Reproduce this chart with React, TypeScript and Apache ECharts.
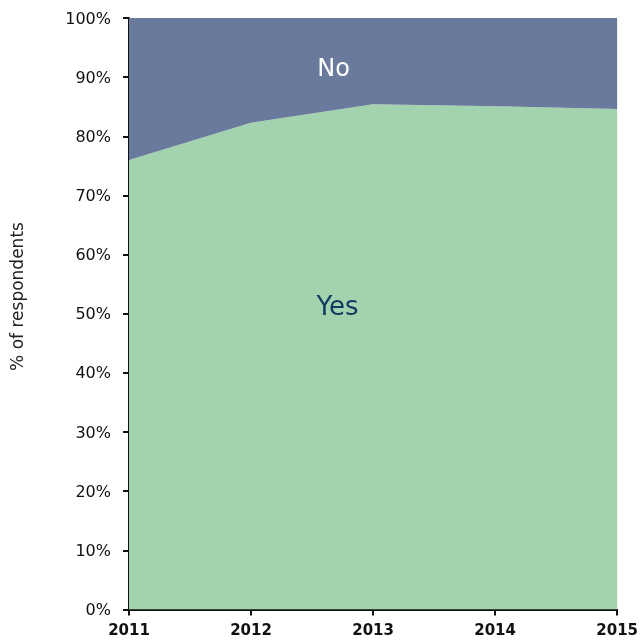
import React, { useEffect, useRef } from "react";
import * as echarts from "echarts";

const years = ["2011", "2012", "2013", "2014", "2015"];
const yesValues = [76.0, 82.3, 85.4, 85.1, 84.6];
const noValues = [24.0, 17.7, 14.6, 14.9, 15.4];
const yTicks = [0, 10, 20, 30, 40, 50, 60, 70, 80, 90, 100];
const yAxisTitle = "% of respondents";

const FONT = "'DejaVu Sans', 'Noto Sans', sans-serif";

export default function App() {
  const ref = useRef<HTMLDivElement>(null);
  useEffect(() => {
    if (!ref.current) return;
    const chart = echarts.init(ref.current, null, { renderer: "svg" });
    chart.setOption({
      animation: false,
      grid: { left: 129, right: 21, top: 18, bottom: 31.5, containLabel: false },
      xAxis: {
        type: "category",
        data: years,
        boundaryGap: false,
        axisLine: { lineStyle: { color: "#111", width: 2 } },
        axisTick: { show: true, length: 6, lineStyle: { color: "#111", width: 2 } },
        axisLabel: {
          color: "#111",
          fontFamily: FONT,
          fontWeight: "bold",
          fontSize: 15,
          margin: 13,
          hideOverlap: false,
          interval: 0,
        },
        splitLine: { show: false },
      },
      yAxis: {
        type: "value",
        min: yTicks[0],
        max: yTicks[yTicks.length - 1],
        interval: 10,
        axisLine: { show: true, lineStyle: { color: "#111", width: 2 } },
        axisTick: { show: true, length: 6, lineStyle: { color: "#111", width: 2 } },
        axisLabel: {
          color: "#111",
          fontFamily: FONT,
          fontSize: 16,
          margin: 18,
          formatter: "{value}%",
        },
        splitLine: { show: false },
      },
      series: [
        {
          name: "Yes",
          type: "line",
          stack: "total",
          data: yesValues,
          symbol: "none",
          lineStyle: { width: 0 },
          areaStyle: { color: "#a3d3ae", opacity: 1 },
          z: 1,
        },
        {
          name: "No",
          type: "line",
          stack: "total",
          data: noValues,
          symbol: "none",
          lineStyle: { width: 0 },
          areaStyle: { color: "#6a7a9c", opacity: 1 },
          z: 1,
        },
      ],
      graphic: [
        {
          type: "text",
          x: 17,
          y: 296.5,
          rotation: Math.PI / 2,
          style: {
            text: yAxisTitle,
            fill: "#222",
            font: `17px ${FONT}`,
            textAlign: "center",
            textVerticalAlign: "middle",
          },
        },
        {
          type: "text",
          x: 333.5,
          y: 68,
          style: {
            text: "No",
            fill: "#ffffff",
            font: `24px ${FONT}`,
            textAlign: "center",
            textVerticalAlign: "middle",
          },
          z: 10,
        },
        {
          type: "text",
          x: 337.5,
          y: 306,
          style: {
            text: "Yes",
            fill: "#0d3a5e",
            font: `26px ${FONT}`,
            textAlign: "center",
            textVerticalAlign: "middle",
          },
          z: 10,
        },
      ],
    });
    return () => chart.dispose();
  }, []);
  return (
    <div
      ref={ref}
      style={{ position: "fixed", left: 0, top: 0, width: 641, height: 641 }}
    />
  );
}
